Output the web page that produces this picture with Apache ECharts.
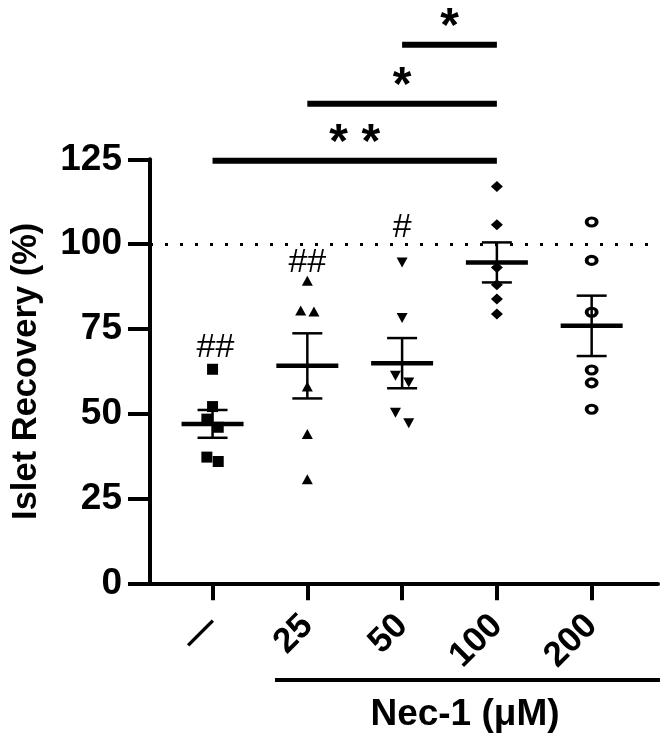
<!DOCTYPE html>
<html>
<head>
<meta charset="utf-8">
<script src="https://cdn.jsdelivr.net/npm/echarts@6/dist/echarts.min.js"></script>
<style>html,body{margin:0;padding:0;background:#fff}#c{width:666px;height:739px}</style>
</head>
<body>
<div id="c"></div>
<script>
// ---- data ----
const categories = ['—', '25', '50', '100', '200'];
const catPos = [1, 2, 3, 4, 5];
const yTicks = [0, 25, 50, 75, 100, 125];

const g1X = [1, 1, 0.94, 1.06, 0.94, 1.06];
const g1Y = [63.1, 52.1, 48.4, 46.0, 37.2, 35.9];
const g2X = [2, 1.93, 2.07, 2, 2, 2];
const g2Y = [89.2, 80.4, 80.1, 58.0, 44.0, 30.7];
const g3X = [3, 3, 2.93, 3.07, 2.93, 3.07];
const g3Y = [94.6, 78.2, 61.2, 59.2, 50.3, 47.2];
const g4X = [4, 4, 4, 4, 4, 4];
const g4Y = [117.0, 105.7, 93.1, 88.0, 83.8, 79.4];
const g5X = [5, 5, 5, 5, 5, 5];
const g5Y = [106.5, 95.2, 79.9, 62.9, 59.1, 51.3];

const means = [47.0, 64.1, 64.9, 94.6, 75.9];
const sems = [4.1, 9.6, 7.4, 5.9, 8.9];

const refValue = 100;

const sigFrom = [1, 2, 3];
const sigTo = [4, 4, 4];
const sigY = [124.6, 141.4, 158.8];
const sigText = ['* *', '*', '*'];

const hashX = [1.03, 2, 3];
const hashY = [69.4, 94.5, 104.8];
const hashText = ['##', '##', '#'];

const yName = 'Islet Recovery (%)';
const xName = 'Nec-1 (μM)';

// ---- chart ----
const FONT = 'Liberation Sans';
const chart = echarts.init(document.getElementById('c'), null, {renderer: 'canvas'});

function pts(xs, ys) { return xs.map((x, i) => [x, ys[i]]); }

const meanData = catPos.map((x, i) => [x, means[i], sems[i]]);
const sigData = sigFrom.map((f, i) => [f, sigTo[i], sigY[i], sigText[i]]);
const hashData = hashX.map((x, i) => [x, hashY[i], hashText[i]]);

const pointStyle = {color: '#000', opacity: 1};

const option = {
  backgroundColor: '#fff',
  animation: false,
  grid: {left: 150, right: 8, top: 159.3, bottom: 155.7, containLabel: false, outerBoundsMode: 'none'},
  xAxis: {
    type: 'value', min: 0.34, max: 5.7,
    splitLine: {show: false},
    axisLine: {show: true, onZero: false, lineStyle: {color: '#000', width: 4}},
    axisTick: {show: true, customValues: catPos, length: 17, lineStyle: {color: '#000', width: 4}},
    axisLabel: {
      customValues: catPos, rotate: 45, margin: 37,
      formatter: v => categories[Math.round(v) - 1],
      fontFamily: FONT, fontWeight: 'bold', fontSize: 35, color: '#000'
    }
  },
  yAxis: {
    type: 'value', min: 0, max: 125, interval: 25,
    splitLine: {show: false},
    axisLine: {show: true, lineStyle: {color: '#000', width: 4}},
    axisTick: {show: true, length: 22, lineStyle: {color: '#000', width: 4}},
    axisLabel: {margin: 28, fontFamily: FONT, fontWeight: 'bold', fontSize: 37, color: '#000',
      formatter: v => (yTicks.indexOf(v) >= 0 ? String(v) : '')},
    name: yName, nameLocation: 'middle', nameRotate: 90, nameGap: 106,
    nameTextStyle: {fontFamily: FONT, fontWeight: 'bold', fontSize: 34.5, color: '#000'}
  },
  graphic: [
    {type: 'line', shape: {x1: 275, y1: 680, x2: 660, y2: 680}, style: {stroke: '#000', lineWidth: 4}},
    {type: 'text', x: 465, y: 715, style: {text: xName, font: 'bold 37px "Liberation Sans"', fill: '#000', align: 'center', verticalAlign: 'middle'}}
  ],
  series: [
    {type: 'scatter', data: pts(g1X, g1Y), symbol: 'rect', symbolSize: 11, itemStyle: pointStyle, z: 3},
    {type: 'scatter', data: pts(g2X, g2Y), symbol: 'triangle', symbolSize: [11, 10], itemStyle: pointStyle, z: 3},
    {type: 'scatter', data: pts(g3X, g3Y), symbol: 'triangle', symbolRotate: 180, symbolSize: [11, 10], itemStyle: pointStyle, z: 3},
    {type: 'scatter', data: pts(g4X, g4Y), symbol: 'diamond', symbolSize: [12, 11], itemStyle: pointStyle, z: 3},
    {type: 'scatter', data: pts(g5X, g5Y), symbol: 'circle', symbolSize: [10, 8],
      itemStyle: {color: '#fff', borderColor: '#000', borderWidth: 3.5, opacity: 1}, z: 3,
      markLine: {
        silent: true, symbol: 'none', label: {show: false},
        lineStyle: {color: '#000', type: [3, 12], width: 3, cap: 'butt'},
        data: [{yAxis: refValue}]
      }
    },
    {
      type: 'custom', z: 4, data: meanData,
      renderItem: function (params, api) {
        const x = api.value(0), m = api.value(1), s = api.value(2);
        const c = api.coord([x, m]);
        const t = api.coord([x, m + s]);
        const b = api.coord([x, m - s]);
        const st = {stroke: '#000', lineWidth: 2.5};
        return {type: 'group', children: [
          {type: 'line', shape: {x1: c[0], y1: t[1], x2: c[0], y2: b[1]}, style: st},
          {type: 'line', shape: {x1: c[0] - 15, y1: t[1], x2: c[0] + 15, y2: t[1]}, style: st},
          {type: 'line', shape: {x1: c[0] - 15, y1: b[1], x2: c[0] + 15, y2: b[1]}, style: st},
          {type: 'line', shape: {x1: c[0] - 31, y1: c[1], x2: c[0] + 31, y2: c[1]}, style: {stroke: '#000', lineWidth: 4.5}}
        ]};
      }
    },
    {
      type: 'custom', z: 5, clip: false, data: sigData,
      renderItem: function (params, api) {
        const a = api.coord([api.value(0), api.value(2)]);
        const b = api.coord([api.value(1), api.value(2)]);
        const txt = sigText[params.dataIndex];
        return {type: 'group', children: [
          {type: 'line', shape: {x1: a[0], y1: a[1], x2: b[0], y2: b[1]}, style: {stroke: '#000', lineWidth: 6}},
          {type: 'text', x: (a[0] + b[0]) / 2, y: a[1] - 17,
            style: {text: txt, font: 'bold 48px "Liberation Sans"', fill: '#000', align: 'center', verticalAlign: 'middle'}}
        ]};
      }
    },
    {
      type: 'custom', z: 5, clip: false, data: hashData,
      renderItem: function (params, api) {
        const p = api.coord([api.value(0), api.value(1)]);
        return {type: 'text', x: p[0], y: p[1],
          style: {text: hashText[params.dataIndex], font: '34px "Liberation Sans"', fill: '#000', align: 'center', verticalAlign: 'middle'}};
      }
    }
  ]
};
chart.setOption(option);
</script>
</body>
</html>
